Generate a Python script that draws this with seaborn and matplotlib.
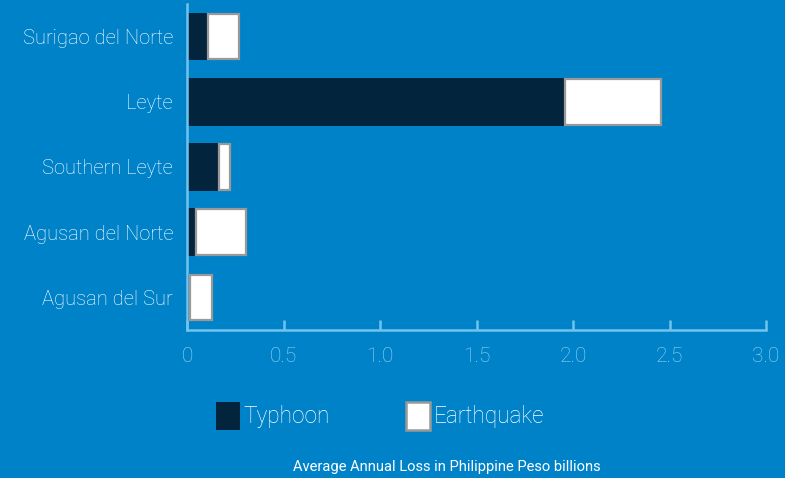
import matplotlib
matplotlib.use("Agg")
import matplotlib.pyplot as plt
import seaborn as sns
import pandas as pd
from matplotlib.patches import Patch

provinces = ["Surigao del Norte", "Leyte", "Southern Leyte", "Agusan del Norte", "Agusan del Sur"]
typhoon = [0.105, 1.952, 0.163, 0.043, 0.012]
earthquake = [0.171, 0.508, 0.063, 0.265, 0.124]
xticks = [0, 0.5, 1.0, 1.5, 2.0, 2.5, 3.0]
xtick_labels = ["0", "0.5", "1.0", "1.5", "2.0", "2.5", "3.0"]
series_names = ["Typhoon", "Earthquake"]
caption = "Average Annual Loss in Philippine Peso billions"

BG = "#0082C9"
DARK = "#02243C"
EDGE = "#999999"
SPINE = "#72C3EE"
TICKTXT = "#9BD3F3"

sns.set_theme(style="white")
plt.rcParams["font.family"] = ["Roboto", "Liberation Sans", "DejaVu Sans"]
plt.rcParams["font.weight"] = "light"

df = pd.DataFrame({"province": provinces, "typhoon": typhoon, "earthquake": earthquake})

fig = plt.figure(figsize=(7.85, 4.78), dpi=100, facecolor=BG)
ax = fig.add_axes([187 / 785, 1 - 330 / 478, (766 - 187) / 785, (330 - 4) / 478])
ax.set_facecolor(BG)

sns.barplot(data=df, x="typhoon", y="province", orient="h", color=DARK,
            width=0.73, edgecolor="none", linewidth=0, saturation=1, ax=ax)
n_before = len(ax.patches)
sns.barplot(data=df, x="earthquake", y="province", orient="h", color="white",
            width=0.70, edgecolor=EDGE, linewidth=1.6, saturation=1, ax=ax)
for patch, left in zip(ax.patches[n_before:], df["typhoon"]):
    patch.set_x(left + 0.004)
    patch.set_width(patch.get_width() - 0.008)

ax.set_xlim(0, 3.0)
ax.set_ylim(4.5, -0.5)
ax.set_xticks(xticks)
ax.set_xticklabels(xtick_labels)
ax.set_xlabel("")
ax.set_ylabel("")

for side in ["top", "right"]:
    ax.spines[side].set_visible(False)
for side in ["left", "bottom"]:
    ax.spines[side].set_visible(True)
    ax.spines[side].set_color(SPINE)
    ax.spines[side].set_linewidth(1.8)

ax.tick_params(axis="x", direction="in", length=7, width=1.8, color=SPINE,
               labelcolor=TICKTXT, labelsize=15, pad=12, bottom=True)
ax.tick_params(axis="y", length=0, labelcolor="white", labelsize=14.5, pad=10, left=False)
ax.grid(False)

handles = [Patch(facecolor=DARK, edgecolor=DARK, linewidth=0),
           Patch(facecolor="white", edgecolor=EDGE, linewidth=1.8)]
leg = fig.legend(handles, series_names, loc="center", bbox_to_anchor=(380 / 785, 1 - 416 / 478),
                 ncol=2, frameon=False, fontsize=16.3, handlelength=1.05, handleheight=1.5,
                 handletextpad=0.15, columnspacing=3.4)
for t in leg.get_texts():
    t.set_color("white")

fig.text(447 / 785, 1 - 467 / 478, caption, ha="center", va="center", color="white",
         fontsize=10.6, fontweight="normal")

fig.savefig("out.png", dpi=100, facecolor=BG)
